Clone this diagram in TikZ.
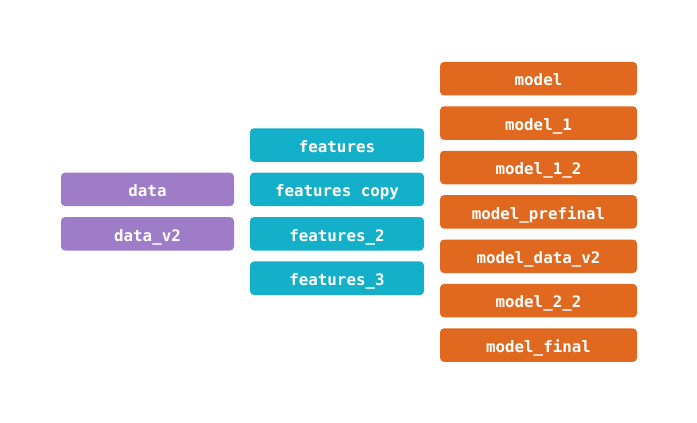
\documentclass[tikz,border=0pt]{standalone}
\usepackage{fontspec}
\setmonofont{DejaVu Sans Mono}
\definecolor{cdata}{HTML}{9E7CC7}
\definecolor{cfeat}{HTML}{14AFC8}
\definecolor{cmodel}{HTML}{E0691F}
\begin{document}
\begin{tikzpicture}[x=1pt,y=-1pt,
  box/.style={rounded corners=4pt, minimum height=33.5pt, inner sep=0pt,
    text height=14.4pt, text depth=0pt,
    text=white, font=\ttfamily\bfseries\fontsize{15.8}{18}\selectfont},
  databox/.style={box, fill=cdata, minimum width=173pt},
  featbox/.style={box, fill=cfeat, minimum width=174pt},
  modelbox/.style={box, fill=cmodel, minimum width=197pt}]
\useasboundingbox (0,0) rectangle (697,423);
\node[databox] (d1) at (147.5,189.4) {data};
\node[databox] (d2) at (147.5,233.8) {data\_v2};
\node[featbox] (f1) at (337,145.0) {features};
\node[featbox] (f2) at (337,189.4) {features copy};
\node[featbox] (f3) at (337,233.8) {features\_2};
\node[featbox] (f4) at (337,278.2) {features\_3};
\node[modelbox] (m1) at (538.5,78.7) {model};
\node[modelbox] (m2) at (538.5,123.1) {model\_1};
\node[modelbox] (m3) at (538.5,167.5) {model\_1\_2};
\node[modelbox] (m4) at (538.5,211.9) {model\_prefinal};
\node[modelbox] (m5) at (538.5,256.3) {model\_data\_v2};
\node[modelbox] (m6) at (538.5,300.7) {model\_2\_2};
\node[modelbox] (m7) at (538.5,345.1) {model\_final};
\end{tikzpicture}
\end{document}
